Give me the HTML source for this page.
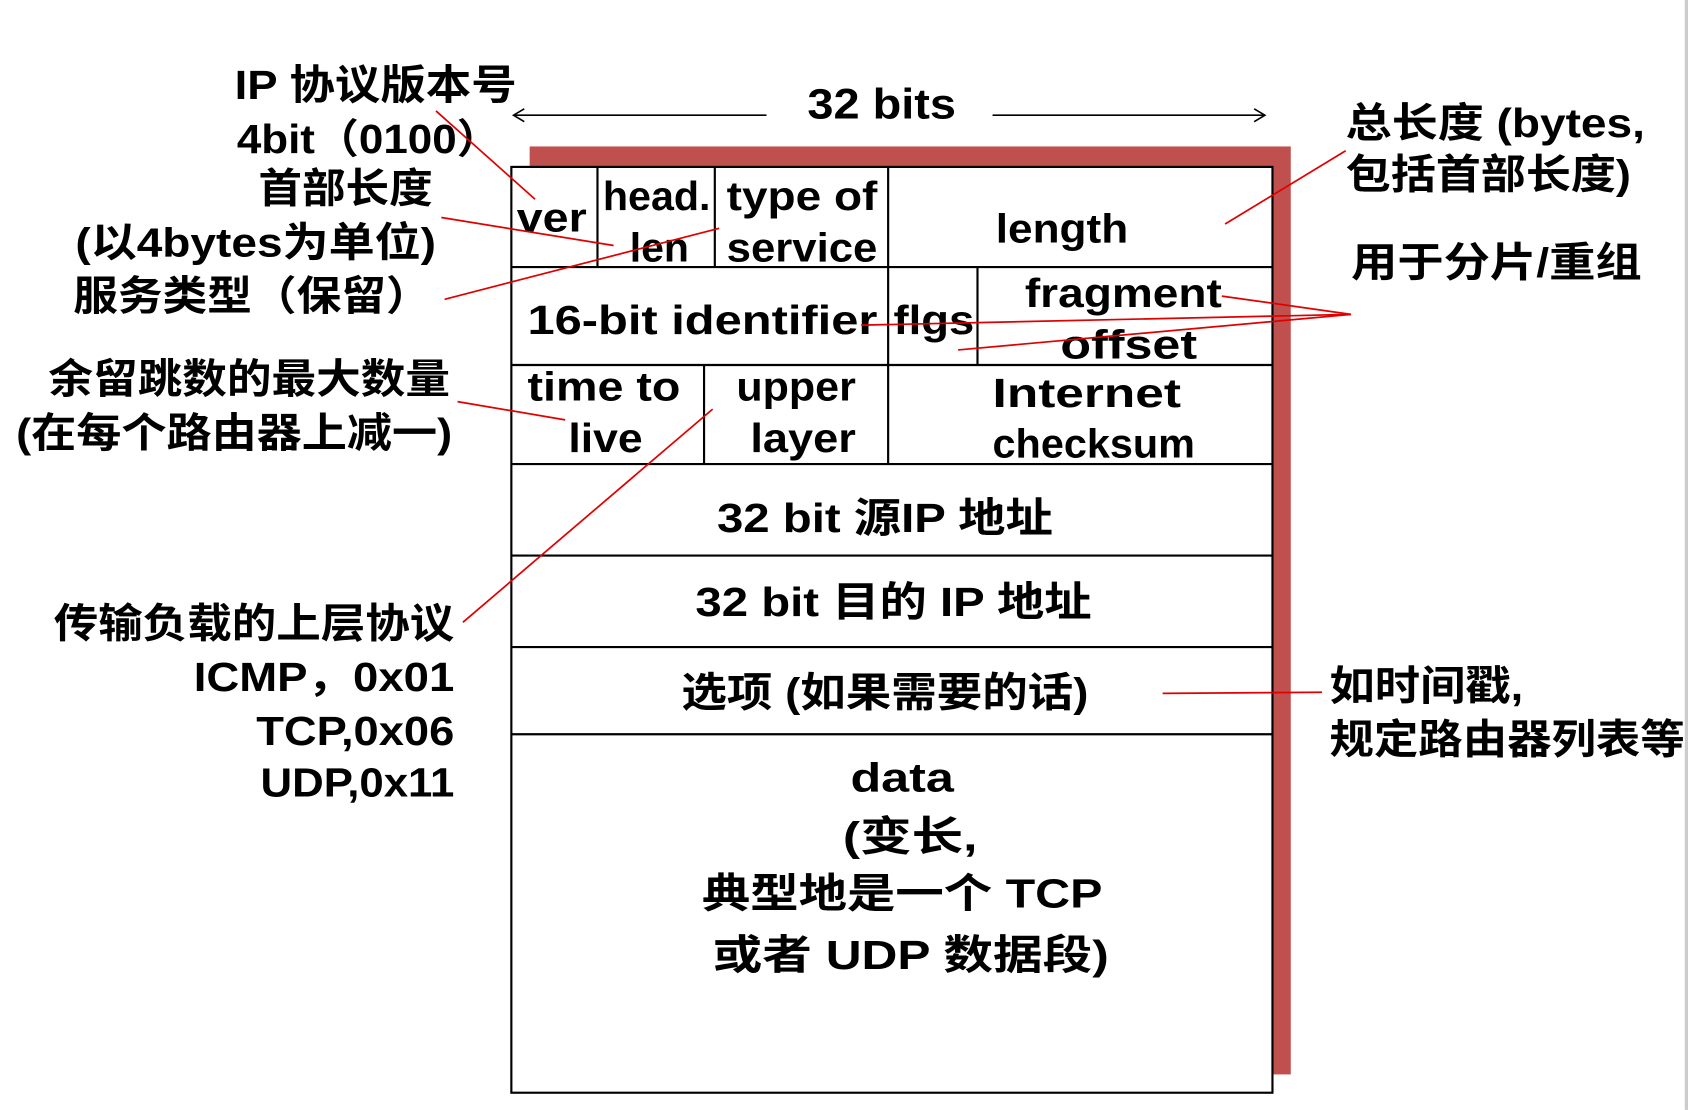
<!DOCTYPE html>
<html><head><meta charset="utf-8"><style>
html,body{margin:0;padding:0;background:#fff;width:1688px;height:1110px;overflow:hidden}
svg{display:block}
text{font-family:"Liberation Sans","Noto Sans CJK SC",sans-serif;fill:#000;font-weight:bold}
</style></head><body>
<svg width="1688" height="1110" viewBox="0 0 1568 1031" xmlns="http://www.w3.org/2000/svg">
<rect x="1565" y="0" width="3" height="1031" fill="#ccc"/>
<rect x="492" y="136" width="707" height="862" fill="#c0504d"/>
<rect x="475" y="155" width="707" height="860" fill="#fff" stroke="#000" stroke-width="2"/>
<g stroke="#000" stroke-width="2">
<line x1="475" y1="248" x2="1182" y2="248"/>
<line x1="475" y1="339" x2="1182" y2="339"/>
<line x1="475" y1="431" x2="1182" y2="431"/>
<line x1="475" y1="516" x2="1182" y2="516"/>
<line x1="475" y1="601" x2="1182" y2="601"/>
<line x1="475" y1="682" x2="1182" y2="682"/>
<line x1="555" y1="155" x2="555" y2="248"/>
<line x1="664" y1="155" x2="664" y2="248"/>
<line x1="825" y1="155" x2="825" y2="248"/>
<line x1="825" y1="248" x2="825" y2="339"/>
<line x1="908" y1="248" x2="908" y2="339"/>
<line x1="654" y1="339" x2="654" y2="431"/>
<line x1="825" y1="339" x2="825" y2="431"/>
</g>
<g stroke="#000" stroke-width="1.5" fill="none">
<line x1="477" y1="107" x2="712" y2="107"/>
<polyline points="487,101 477,107 487,113"/>
<line x1="922" y1="107" x2="1175" y2="107"/>
<polyline points="1165,101 1175,107 1165,113"/>
</g>
<g font-size="40">
<text x="750" y="110" textLength="138" lengthAdjust="spacingAndGlyphs">32 bits</text>
</g>
<g font-size="38">
<text x="480" y="215" textLength="65" lengthAdjust="spacingAndGlyphs">ver</text>
<text x="560" y="195" textLength="100" lengthAdjust="spacingAndGlyphs">head.</text>
<text x="585" y="243" textLength="55" lengthAdjust="spacingAndGlyphs">len</text>
<text x="675" y="195" textLength="140" lengthAdjust="spacingAndGlyphs">type of</text>
<text x="675" y="243" textLength="140" lengthAdjust="spacingAndGlyphs">service</text>
<text x="925" y="225" textLength="123" lengthAdjust="spacingAndGlyphs">length</text>
<text x="490" y="310" textLength="325" lengthAdjust="spacingAndGlyphs">16-bit identifier</text>
<text x="830" y="310" textLength="75" lengthAdjust="spacingAndGlyphs">flgs</text>
<text x="952" y="285" textLength="183" lengthAdjust="spacingAndGlyphs">fragment</text>
<text x="985" y="333" textLength="127" lengthAdjust="spacingAndGlyphs">offset</text>
<text x="490" y="372" textLength="142" lengthAdjust="spacingAndGlyphs">time to</text>
<text x="528" y="420" textLength="69" lengthAdjust="spacingAndGlyphs">live</text>
<text x="684" y="372" textLength="111" lengthAdjust="spacingAndGlyphs">upper</text>
<text x="697" y="420" textLength="98" lengthAdjust="spacingAndGlyphs">layer</text>
<text x="922" y="378" textLength="175" lengthAdjust="spacingAndGlyphs">Internet</text>
<text x="922" y="425" textLength="188" lengthAdjust="spacingAndGlyphs">checksum</text>
<text x="666" y="494" textLength="312" lengthAdjust="spacingAndGlyphs">32 bit 源IP 地址</text>
<text x="646" y="572" textLength="368" lengthAdjust="spacingAndGlyphs">32 bit 目的 IP 地址</text>
<text x="633" y="656" textLength="378" lengthAdjust="spacingAndGlyphs">选项 (如果需要的话)</text>
<text x="790" y="735" textLength="96" lengthAdjust="spacingAndGlyphs">data</text>
<text x="783" y="790" textLength="125" lengthAdjust="spacingAndGlyphs">(变长,</text>
<text x="652" y="843" textLength="372" lengthAdjust="spacingAndGlyphs">典型地是一个 TCP</text>
<text x="662" y="900" textLength="368" lengthAdjust="spacingAndGlyphs">或者 UDP 数据段)</text>
</g>
<g font-size="38">
<text x="218" y="92" textLength="262" lengthAdjust="spacingAndGlyphs">IP 协议版本号</text>
<text x="220" y="142" textLength="245" lengthAdjust="spacingAndGlyphs">4bit（0100）</text>
<text x="240" y="188" textLength="162" lengthAdjust="spacingAndGlyphs">首部长度</text>
<text x="70" y="238" textLength="335" lengthAdjust="spacingAndGlyphs">(以4bytes为单位)</text>
<text x="68" y="288" textLength="332" lengthAdjust="spacingAndGlyphs">服务类型（保留）</text>
<text x="45" y="365" textLength="373" lengthAdjust="spacingAndGlyphs">余留跳数的最大数量</text>
<text x="15" y="415" textLength="405" lengthAdjust="spacingAndGlyphs">(在每个路由器上减一)</text>
<text x="50" y="592" textLength="372" lengthAdjust="spacingAndGlyphs">传输负载的上层协议</text>
<text x="180" y="642" textLength="242" lengthAdjust="spacingAndGlyphs">ICMP，0x01</text>
<text x="238" y="692" textLength="184" lengthAdjust="spacingAndGlyphs">TCP,0x06</text>
<text x="242" y="740" textLength="180" lengthAdjust="spacingAndGlyphs">UDP,0x11</text>
</g>
<g font-size="38">
<text x="1250" y="127" textLength="278" lengthAdjust="spacingAndGlyphs">总长度 (bytes,</text>
<text x="1250" y="175" textLength="265" lengthAdjust="spacingAndGlyphs">包括首部长度)</text>
<text x="1255" y="257" textLength="270" lengthAdjust="spacingAndGlyphs">用于分片/重组</text>
<text x="1235" y="650" textLength="180" lengthAdjust="spacingAndGlyphs">如时间戳,</text>
<text x="1235" y="700" textLength="330" lengthAdjust="spacingAndGlyphs">规定路由器列表等</text>
</g>
<g stroke="#e00000" stroke-width="1.6" fill="none">
<line x1="405" y1="103" x2="497" y2="185"/>
<line x1="410" y1="202" x2="570" y2="228"/>
<line x1="413" y1="278" x2="668" y2="212"/>
<line x1="425" y1="373" x2="525" y2="390"/>
<line x1="430" y1="578" x2="662" y2="380"/>
<line x1="1138" y1="208" x2="1250" y2="140"/>
<line x1="1135" y1="275" x2="1255" y2="292"/>
<line x1="800" y1="302" x2="1255" y2="292"/>
<line x1="890" y1="325" x2="1255" y2="292"/>
<line x1="1080" y1="644" x2="1228" y2="643"/>
</g>
</svg>
</body></html>
